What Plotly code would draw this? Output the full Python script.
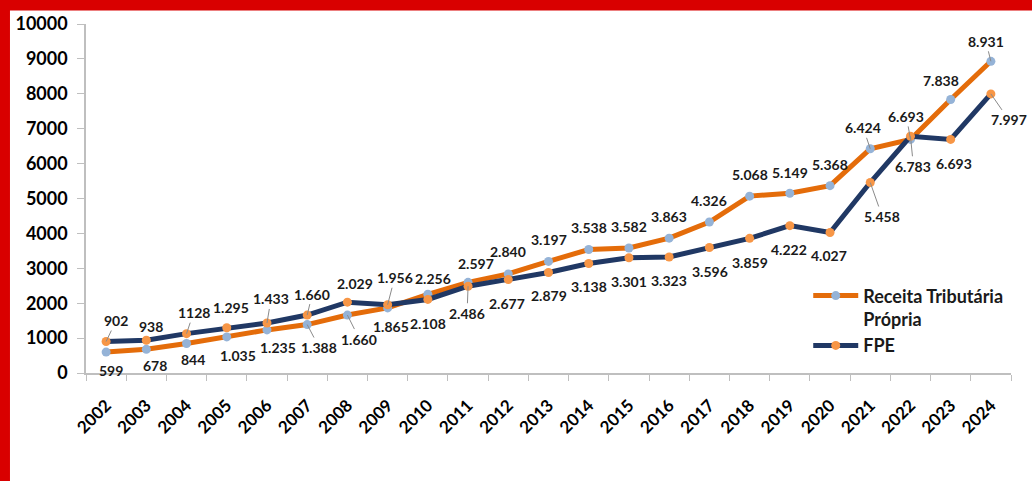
import plotly.graph_objects as go

years = [str(y) for y in range(2002, 2025)]

receita = [599, 678, 844, 1035, 1235, 1388, 1660, 1865, 2256, 2597, 2840, 3197,
           3538, 3582, 3863, 4326, 5068, 5149, 5368, 6424, 6693, 7838, 8931]
fpe = [902, 938, 1128, 1295, 1433, 1660, 2029, 1956, 2108, 2486, 2677, 2879,
       3138, 3301, 3323, 3596, 3859, 4222, 4027, 5458, 6783, 6693, 7997]

receita_labels = ["599", "678", "844", "1.035", "1.235", "1.388", "1.660", "1.865",
                  "2.256", "2.597", "2.840", "3.197", "3.538", "3.582", "3.863",
                  "4.326", "5.068", "5.149", "5.368", "6.424", "6.693", "7.838", "8.931"]
fpe_labels = ["902", "938", "1128", "1.295", "1.433", "1.660", "2.029", "1.956",
              "2.108", "2.486", "2.677", "2.879", "3.138", "3.301", "3.323", "3.596",
              "3.859", "4.222", "4.027", "5.458", "6.783", "6.693", "7.997"]

y_ticks = [0, 1000, 2000, 3000, 4000, 5000, 6000, 7000, 8000, 9000, 10000]

# label placement (pixel offsets from each point) and leader-line flags
receita_offsets = [(5, 18), (9, 16), (6, 16), (11, 19), (11, 18), (12, 23), (12, 24),
                   (3, 19), (5, -16), (8, -19), (0, -22), (0, -22), (0, -22), (0, -21),
                   (0, -22), (0, -22), (0, -22), (0, -21), (0, -21), (-7, -21),
                   (-4, -23), (-10, -19), (-5, -20)]
receita_leader = {5, 6, 19, 20, 22}
fpe_offsets = [(10, -21), (5, -14), (7, -21), (4, -20), (4, -24), (5, -21), (8, -19),
               (7, -27), (0, 24), (-1, 27), (-1, 24), (0, 23), (0, 23), (0, 24),
               (0, 23), (1, 24), (0, 24), (-1, 24), (-1, 23), (12, 34), (3, 30),
               (3, 24), (18, 26)]
fpe_leader = {0, 2, 4, 5, 7, 9, 19, 20, 22}

FONT = "Lato"
ORANGE = "#E46C0A"
NAVY = "#203864"

fig = go.Figure()
fig.add_trace(go.Scatter(
    x=years, y=receita, mode="lines+markers", name="<b>Receita Tributária<br>Própria</b>",
    line=dict(color=ORANGE, width=5),
    marker=dict(color="#95B3D7", size=9),
))
fig.add_trace(go.Scatter(
    x=years, y=fpe, mode="lines+markers", name="<b>FPE</b>",
    line=dict(color=NAVY, width=5),
    marker=dict(color="#F79646", size=9),
))

for vals, labels, offs, leaders in ((receita, receita_labels, receita_offsets, receita_leader),
                                    (fpe, fpe_labels, fpe_offsets, fpe_leader)):
    for i in range(len(years)):
        dx, dy = offs[i]
        fig.add_annotation(
            x=i, y=vals[i], xref="x", yref="y", text="<b>" + labels[i] + "</b>",
            showarrow=True, ax=dx, ay=dy, arrowhead=0, arrowwidth=1,
            arrowcolor="#8a8a8a" if i in leaders else "rgba(255,255,255,0)",
            font=dict(family=FONT, size=14, color="#1a1a1a"),
        )

# paper-coordinate helpers for the red frame
L, R, T, B = 86, 21.3, 21.7, 107.7
W, H = 1032, 481
pw, ph = W - L - R, H - T - B
def px(x):
    return (x - L) / pw
def py(y):
    return (H - B - y) / ph

fig.add_shape(type="rect", xref="paper", yref="paper", x0=px(-5), x1=px(10),
              y0=py(490), y1=py(-5), fillcolor="#D90000", line=dict(width=0))
fig.add_shape(type="rect", xref="paper", yref="paper", x0=px(-5), x1=px(1040),
              y0=py(8), y1=py(-5), fillcolor="#D90000", line=dict(width=0))

fig.update_layout(
    width=W, height=H,
    margin=dict(l=L, r=R, t=T, b=B, pad=0),
    paper_bgcolor="white", plot_bgcolor="white",
    font=dict(family=FONT, color="#000000"),
    showlegend=True,
    legend=dict(
        x=px(808), y=py(277), xanchor="left", yanchor="top",
        bgcolor="rgba(0,0,0,0)", valign="top", tracegroupgap=0, itemwidth=45,
        font=dict(family=FONT, size=18, color="#1a1a1a"),
    ),
)
fig.update_xaxes(
    type="category", range=[-0.5, 22.5], tickangle=-45,
    showline=True, linecolor="#BFBFBF", linewidth=1.5,
    ticks="outside", tickson="boundaries", ticklen=6, tickcolor="#BFBFBF",
    showgrid=False, zeroline=False, ticklabelstandoff=14,
    tickfont=dict(family=FONT, size=17, color="#000000", weight="bold"),
)
fig.update_yaxes(
    range=[0, 10000], tickvals=y_ticks, ticktext=[str(v) for v in y_ticks],
    showline=True, linecolor="#BFBFBF", linewidth=1.5,
    ticks="outside", ticklen=7, tickcolor="#BFBFBF",
    showgrid=False, zeroline=False, ticklabelstandoff=6,
    tickfont=dict(family=FONT, size=18, color="#000000", weight="bold"),
)

fig.write_html("out.html")
